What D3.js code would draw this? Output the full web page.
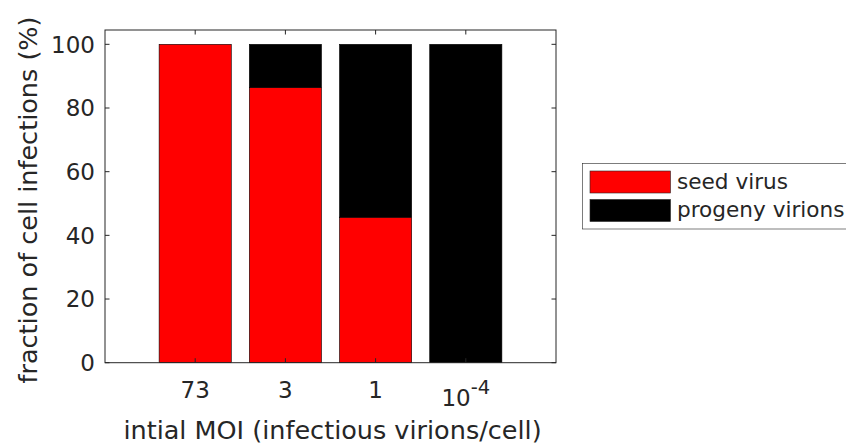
<!DOCTYPE html>
<html><head><meta charset="utf-8">
<script src="https://cdn.jsdelivr.net/npm/d3@7"></script>
<style>body{margin:0;background:#fff}svg{display:block}text{font-family:"DejaVu Sans",sans-serif;fill:#262626}</style>
</head><body>
<svg id="c" width="846" height="445"></svg>
<script>
const categories = ["73", "3", "1", "10^-4"];
const seedVirus = [100, 86.5, 45.7, 0];
const progenyVirions = [0, 13.5, 54.3, 100];
const yTicks = [0, 20, 40, 60, 80, 100];
const seriesNames = ["seed virus", "progeny virions"];
const seriesColors = ["#ff0000", "#000000"];

const svg = d3.select("#c");
const L = 105, R = 556, T = 30, B = 362.7;
const x = d3.scaleLinear().domain([0, categories.length + 1]).range([L, R]);
const y = d3.scaleLinear().domain([0, 104.5]).range([B, T]);
const bw = x(0.8) - x(0);
const fs = 23, lfs = 21.6, tfs = 25.5;

const stacked = categories.map((c, i) => [
  {s: 0, y0: 0, y1: seedVirus[i], i},
  {s: 1, y0: seedVirus[i], y1: seedVirus[i] + progenyVirions[i], i}
]).flat().filter(d => d.y1 > d.y0);

svg.append("g").selectAll("rect").data(stacked).join("rect")
  .attr("x", d => x(d.i + 1) - bw / 2)
  .attr("width", bw)
  .attr("y", d => y(d.y1))
  .attr("height", d => y(d.y0) - y(d.y1))
  .attr("fill", d => seriesColors[d.s])
  .attr("stroke", "#000").attr("stroke-width", 0.6);

// axes box
const ax = svg.append("g").attr("stroke", "#262626").attr("stroke-width", 1).attr("fill", "none");
ax.append("rect").attr("x", L).attr("y", T).attr("width", R - L).attr("height", B - T);
const tl = 4.5;
yTicks.forEach(v => {
  ax.append("line").attr("x1", L).attr("x2", L + tl).attr("y1", y(v)).attr("y2", y(v));
  ax.append("line").attr("x1", R).attr("x2", R - tl).attr("y1", y(v)).attr("y2", y(v));
});
categories.forEach((c, i) => {
  ax.append("line").attr("x1", x(i + 1)).attr("x2", x(i + 1)).attr("y1", B).attr("y2", B - tl);
  ax.append("line").attr("x1", x(i + 1)).attr("x2", x(i + 1)).attr("y1", T).attr("y2", T + tl);
});

// y tick labels
svg.append("g").selectAll("text").data(yTicks).join("text")
  .attr("x", L - 10).attr("y", d => y(d)).attr("dy", "0.36em")
  .attr("text-anchor", "end").attr("font-size", fs).text(d => d);

// x tick labels
categories.forEach((c, i) => {
  const t = svg.append("text").attr("x", x(i + 1)).attr("text-anchor", "middle").attr("font-size", fs);
  if (c.includes("^")) {
    const [b, e] = c.split("^");
    t.attr("y", 406);
    t.append("tspan").text(b);
    t.append("tspan").attr("dy", -12).attr("font-size", fs * 0.85).text(e);
  } else {
    t.attr("y", 398).text(c);
  }
});

svg.append("text").attr("x", (L + R) / 2 + 2).attr("y", 439).attr("text-anchor", "middle")
  .attr("font-size", tfs).text("intial MOI (infectious virions/cell)");
svg.append("text").attr("transform", `translate(37,200) rotate(-90)`)
  .attr("text-anchor", "middle").attr("font-size", tfs).text("fraction of cell infections (%)");

// legend
const lg = svg.append("g");
lg.append("rect").attr("x", 582.5).attr("y", 163.5).attr("width", 290).attr("height", 65.5)
  .attr("fill", "#fff").attr("stroke", "#262626").attr("stroke-width", 0.6);
seriesNames.forEach((n, k) => {
  lg.append("rect").attr("x", 590).attr("y", 171 + k * 28.5).attr("width", 80.5).attr("height", 22)
    .attr("fill", seriesColors[k]).attr("stroke", "#262626").attr("stroke-width", 0.6);
  lg.append("text").attr("x", 677).attr("y", 188.5 + k * 28.3).attr("font-size", lfs).text(n);
});
</script>
</body></html>
